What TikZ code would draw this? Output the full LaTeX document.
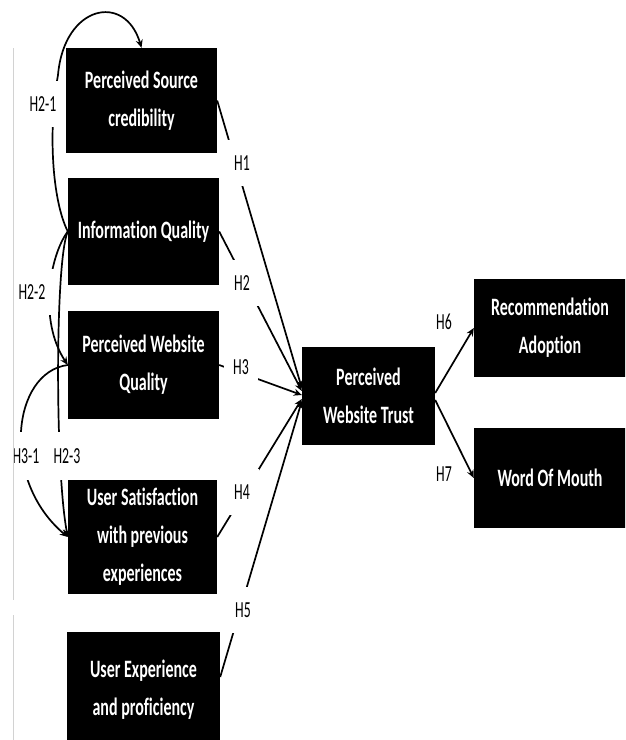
\documentclass[tikz,border=0pt]{standalone}
\usepackage{fontspec}
\usetikzlibrary{arrows.meta}
\newfontfamily\boxfont[FakeStretch=0.64,Ligatures=NoCommon]{Carlito}
\newfontfamily\labfont[FakeStretch=0.6,Ligatures=NoCommon]{Carlito}
\begin{document}
\begin{tikzpicture}[x=1pt,y=-1pt,
  box/.style={fill=black, text=white, align=center, inner sep=0pt,
    font=\boxfont\bfseries\fontsize{25}{38}\selectfont},
  hyp/.style={fill=white, inner xsep=9pt, inner ysep=16pt,
    font=\labfont\fontsize{23}{26}\selectfont},
  hypfree/.style={inner sep=1pt, font=\labfont\fontsize{23}{26}\selectfont},
  link/.style={line width=1.7pt, -{Stealth[length=8pt,width=7pt]}},
  edgeline/.style={gray!35, line width=0.8pt}
  ]
\useasboundingbox (0,0) rectangle (625,740);
\clip (0,0) rectangle (625,740);

% boxes
\node[box, minimum width=151pt, minimum height=105pt] (psc) at (141.5,100.5) {Perceived Source\\credibility};
\node[box, minimum width=151pt, minimum height=107pt] (iq) at (143.5,231.5) {Information Quality};
\node[box, minimum width=151pt, minimum height=108pt] (pwq) at (143.5,365) {Perceived Website\\Quality};
\node[box, minimum width=149pt, minimum height=114pt] (us) at (142.5,537) {User Satisfaction\\with previous\\experiences};
\node[box, minimum width=153pt, minimum height=116pt] (ue) at (143.5,690) {User Experience\\and proficiency};
\node[box, minimum width=133pt, minimum height=98pt] (pwt) at (368.5,396) {Perceived\\Website Trust};
\node[box, minimum width=152pt, minimum height=98pt] (ra) at (550,328) {Recommendation\\Adoption};
\node[box, minimum width=152pt, minimum height=100pt] (wom) at (550,478) {Word Of Mouth};

% paths into perceived website trust
\draw[link] (psc.east) -- ([yshift=8pt]pwt.west);
\draw[link] (iq.east) -- ([yshift=5pt]pwt.west);
\draw[link] (pwq.east) -- ([yshift=1pt]pwt.west);
\draw[link] (us.east) -- ([yshift=-3pt]pwt.west);
\draw[link] ([yshift=13pt]ue.east) -- ([yshift=-5pt]pwt.west);

% outcomes
\draw[link] ([yshift=3pt]pwt.east) -- (ra.west);
\draw[link] ([yshift=-4pt]pwt.east) -- (wom.west);

% left-hand curved paths
\draw[link] (iq.west) .. controls (52,200) and (48,130) .. (58,75)
  .. controls (64,5) and (125,-8) .. (psc.north);
\draw[link] (iq.west) .. controls (50,255) and (38,320) .. (pwq.west);
\draw[link] (iq.west) .. controls (55,260) and (55,470) .. (us.west);
\draw[link] (pwq.west) .. controls (12,372) and (0,480) .. (us.west);

% labels
\node[hyp] (h1) at (242,163) {H1};
\node[hyp] (h2) at (242,283) {H2};
\node[hyp] (h3) at (241,367) {H3};
\node[hyp] (h4) at (242,492) {H4};
\node[hyp] (h5) at (243,610) {H5};
\node[hyp] (h21) at (43,104) {H2-1};
\node[hyp] (h22) at (32,292) {H2-2};
\node[hyp] (h31) at (26,456) {H3-1};
\node[hyp] (h23) at (67,456) {H2-3};
\node[hypfree] (h6) at (444,322) {H6};
\node[hypfree] (h7) at (444,474) {H7};

% faint left margin line
\draw[edgeline] (13,48) -- (13,600);
\draw[edgeline] (13,615) -- (13,740);
\end{tikzpicture}
\end{document}
